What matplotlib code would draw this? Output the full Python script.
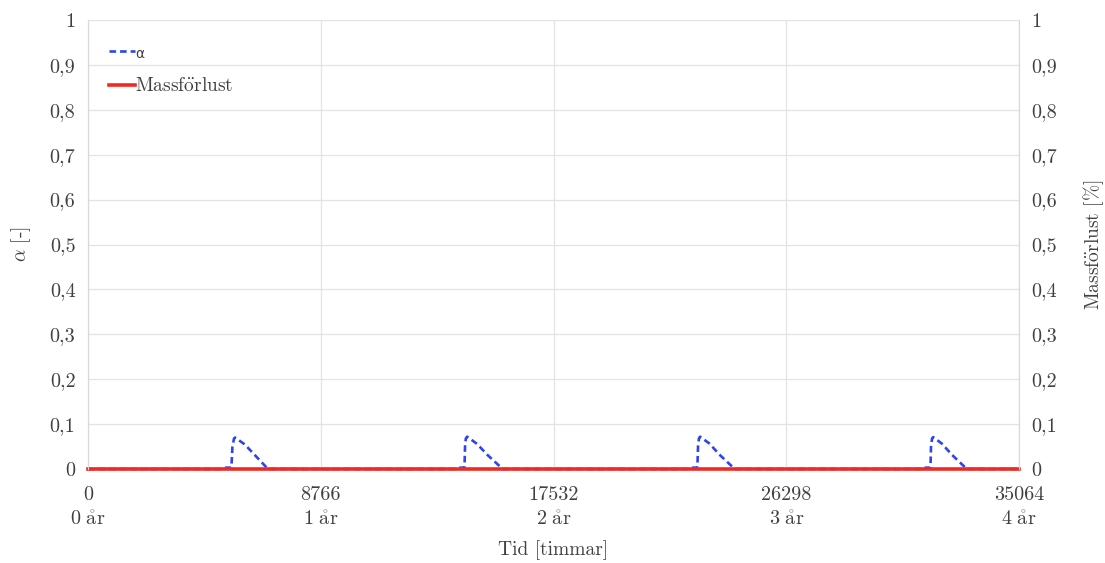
import matplotlib
matplotlib.use("Agg")
import matplotlib.pyplot as plt

plt.rcParams['font.family'] = ['cmr10', 'DejaVu Serif']
plt.rcParams['mathtext.fontset'] = 'cm'
plt.rcParams['axes.unicode_minus'] = False

# alpha over time (hours)
tid = [0, 5050, 5150, 5400, 5440, 5500, 5540, 5900, 6300, 6780,
       13850, 13950, 14180, 14200, 14230, 14280, 14650, 15050, 15620,
       22620, 22720, 22950, 22975, 23010, 23050, 23400, 23800, 24360,
       31400, 31500, 31730, 31750, 31790, 31830, 32150, 32550, 33100,
       35064]
alpha = [0, 0, 0.003, 0.003, 0.05, 0.068, 0.07, 0.055, 0.03, 0,
         0, 0.003, 0.003, 0.05, 0.068, 0.072, 0.056, 0.031, 0,
         0, 0.003, 0.003, 0.05, 0.068, 0.072, 0.057, 0.031, 0,
         0, 0.003, 0.003, 0.05, 0.068, 0.071, 0.057, 0.031, 0,
         0]
massforlust_t = [0, 35064]
massforlust = [0, 0]

xticks = [0, 8766, 17532, 26298, 35064]
xticklabels = ["0\n$0\\ \\mathrm{\\mathring{a}r}$", "8766\n$1\\ \\mathrm{\\mathring{a}r}$",
               "17532\n$2\\ \\mathrm{\\mathring{a}r}$", "26298\n$3\\ \\mathrm{\\mathring{a}r}$",
               "35064\n$4\\ \\mathrm{\\mathring{a}r}$"]
yticks = [0, 0.1, 0.2, 0.3, 0.4, 0.5, 0.6, 0.7, 0.8, 0.9, 1]
yticklabels = ["0", "0,1", "0,2", "0,3", "0,4", "0,5", "0,6", "0,7", "0,8", "0,9", "1"]
mass_label = r'$\mathrm{Massf\ddot{o}rlust}$'

fig = plt.figure(figsize=(11.05, 5.63), dpi=100)
ax = fig.add_axes([88 / 1105, 1 - 469 / 563, (1019 - 88) / 1105, (469 - 20) / 563])
ax2 = ax.twinx()

txtcol = '#404040'
ax.plot(tid, alpha, color='#2E45EE', lw=1.9, ls=(0, (2.5, 1.5)), label='α', zorder=3, clip_on=False)
ax.plot(massforlust_t, massforlust, color='#F02A22', lw=2.6, label=mass_label, zorder=4, clip_on=False)

ax.set_xlim(0, 35064)
ax.set_ylim(0, 1)
ax2.set_ylim(0, 1)
ax.set_xticks(xticks)
ax.set_xticklabels(xticklabels, linespacing=1.45)
ax.set_yticks(yticks)
ax.set_yticklabels(yticklabels)
ax2.set_yticks(yticks)
ax2.set_yticklabels(yticklabels)

ax.grid(True, color='#e3e3e3', lw=0.9)
ax.set_axisbelow(True)
for a in (ax, ax2):
    a.tick_params(length=0, labelsize=14.5, colors=txtcol, pad=9)
    for s in ('top', 'bottom'):
        a.spines[s].set_visible(False)
    a.spines['left'].set_color('#d9d9d9')
    a.spines['right'].set_color('#d9d9d9')
ax.tick_params(axis='x', pad=12)

ax.set_ylabel(r'$\alpha$ [-]', fontsize=14, color=txtcol, labelpad=12)
ax2.set_ylabel(mass_label + ' [%]', fontsize=14, color=txtcol, labelpad=17)
ax.set_xlabel('Tid [timmar]', fontsize=14, color=txtcol, labelpad=8)

leg = ax.legend(loc='upper left', bbox_to_anchor=(0.004, 0.985), frameon=False,
                handlelength=1.3, handletextpad=0.05, labelspacing=0.85, fontsize=14)
for t in leg.get_texts():
    t.set_color(txtcol)
leg.get_texts()[0].set_family('DejaVu Sans')
leg.get_texts()[0].set_fontsize(10)

fig.savefig('out.png', dpi=100)
